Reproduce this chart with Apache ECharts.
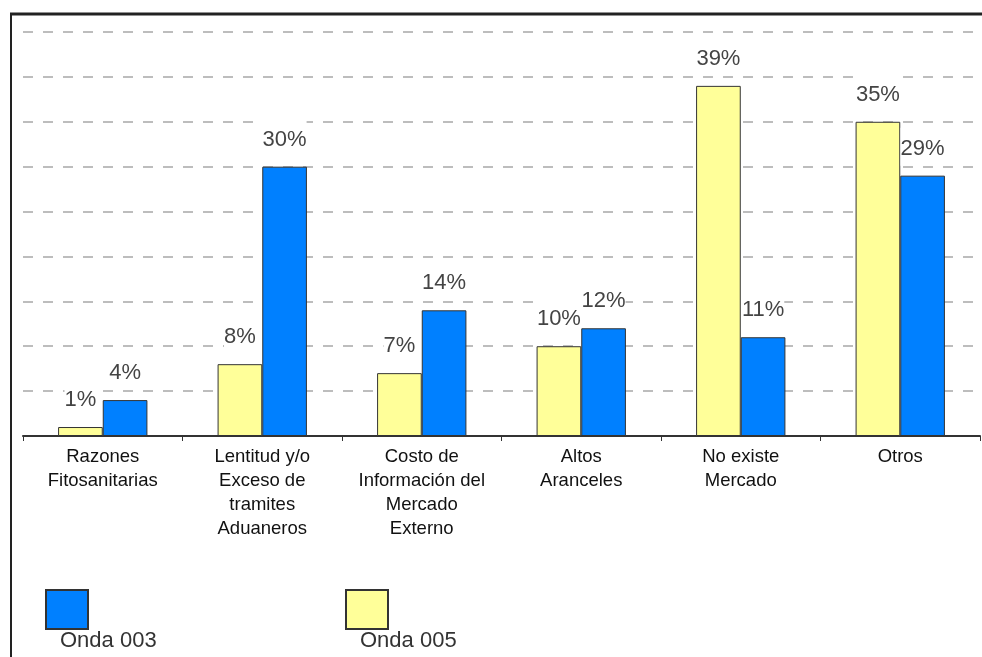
<!DOCTYPE html>
<html>
<head>
<meta charset="utf-8">
<script src="https://cdn.jsdelivr.net/npm/echarts@6/dist/echarts.min.js"></script>
<style>
html,body{margin:0;padding:0;background:#fff;}
#chart{width:982px;height:657px;}
</style>
</head>
<body>
<div id="chart"></div>
<script>
const categories = [
  "Razones\nFitosanitarias",
  "Lentitud y/o\nExceso de\ntramites\nAduaneros",
  "Costo de\nInformación del\nMercado\nExterno",
  "Altos\nAranceles",
  "No existe\nMercado",
  "Otros"
];
const onda005 = [1, 8, 7, 10, 39, 35];
const onda003 = [4, 30, 14, 12, 11, 29];
const seriesNames = ["Onda 005", "Onda 003"];
const yMax = 45;
const yInterval = 5;

const chart = echarts.init(document.getElementById('chart'), null, {renderer: 'canvas'});

const labelStyle = {
  show: true,
  position: 'top',
  distance: 10,
  formatter: '{c}%',
  fontFamily: 'Liberation Sans',
  fontSize: 22,
  color: '#444',
  backgroundColor: '#fff',
  padding: [10, 0, 6, 0]
};

chart.setOption({
  animation: false,
  backgroundColor: '#fff',
  grid: {left: 23, right: 2, top: 32, bottom: 221, containLabel: false},
  xAxis: {
    type: 'category',
    data: categories,
    axisLine: {show: true, lineStyle: {color: '#333', width: 2}},
    axisTick: {show: true, length: 5, lineStyle: {color: '#333', width: 1}},
    axisLabel: {
      interval: 0,
      margin: 9,
      fontFamily: 'Liberation Sans',
      fontSize: 18.5,
      lineHeight: 24,
      color: '#111',
      align: 'center',
      verticalAlign: 'top'
    }
  },
  yAxis: {
    type: 'value',
    min: 0,
    max: yMax,
    interval: yInterval,
    axisLine: {show: false},
    axisTick: {show: false},
    axisLabel: {show: false},
    splitLine: {show: true, lineStyle: {color: '#bdbdbd', width: 2, type: [10, 10]}}
  },
  legend: [
    {
      data: [seriesNames[1]],
      left: 45, top: 589,
      padding: 0,
      icon: 'rect',
      itemWidth: 42, itemHeight: 39,
      formatter: function(){ return ''; },
      textStyle: {fontSize: 1},
      selectedMode: false
    },
    {
      data: [seriesNames[0]],
      left: 345, top: 589,
      padding: 0,
      icon: 'rect',
      itemWidth: 42, itemHeight: 39,
      formatter: function(){ return ''; },
      textStyle: {fontSize: 1},
      selectedMode: false
    }
  ],
  series: [
    {
      name: seriesNames[0],
      type: 'bar',
      data: onda005,
      barGap: '0%',
      barCategoryGap: '44%',
      itemStyle: {color: '#ffff99', borderColor: '#333', borderWidth: 1},
      label: labelStyle
    },
    {
      name: seriesNames[1],
      type: 'bar',
      data: onda003,
      barGap: '0%',
      barCategoryGap: '44%',
      itemStyle: {color: '#0080ff', borderColor: '#333', borderWidth: 1},
      label: labelStyle
    }
  ],
  graphic: [
    {type: 'line', shape: {x1: 10, y1: 14, x2: 982, y2: 14}, style: {stroke: '#222', lineWidth: 3}, z: 100},
    {type: 'line', shape: {x1: 11, y1: 13, x2: 11, y2: 657}, style: {stroke: '#222', lineWidth: 2}, z: 100},
    {type: 'text', left: 60, top: 630, style: {text: 'Onda 003', font: '22px "Liberation Sans"', fill: '#333'}},
    {type: 'text', left: 360, top: 630, style: {text: 'Onda 005', font: '22px "Liberation Sans"', fill: '#333'}}
  ]
});
</script>
</body>
</html>
